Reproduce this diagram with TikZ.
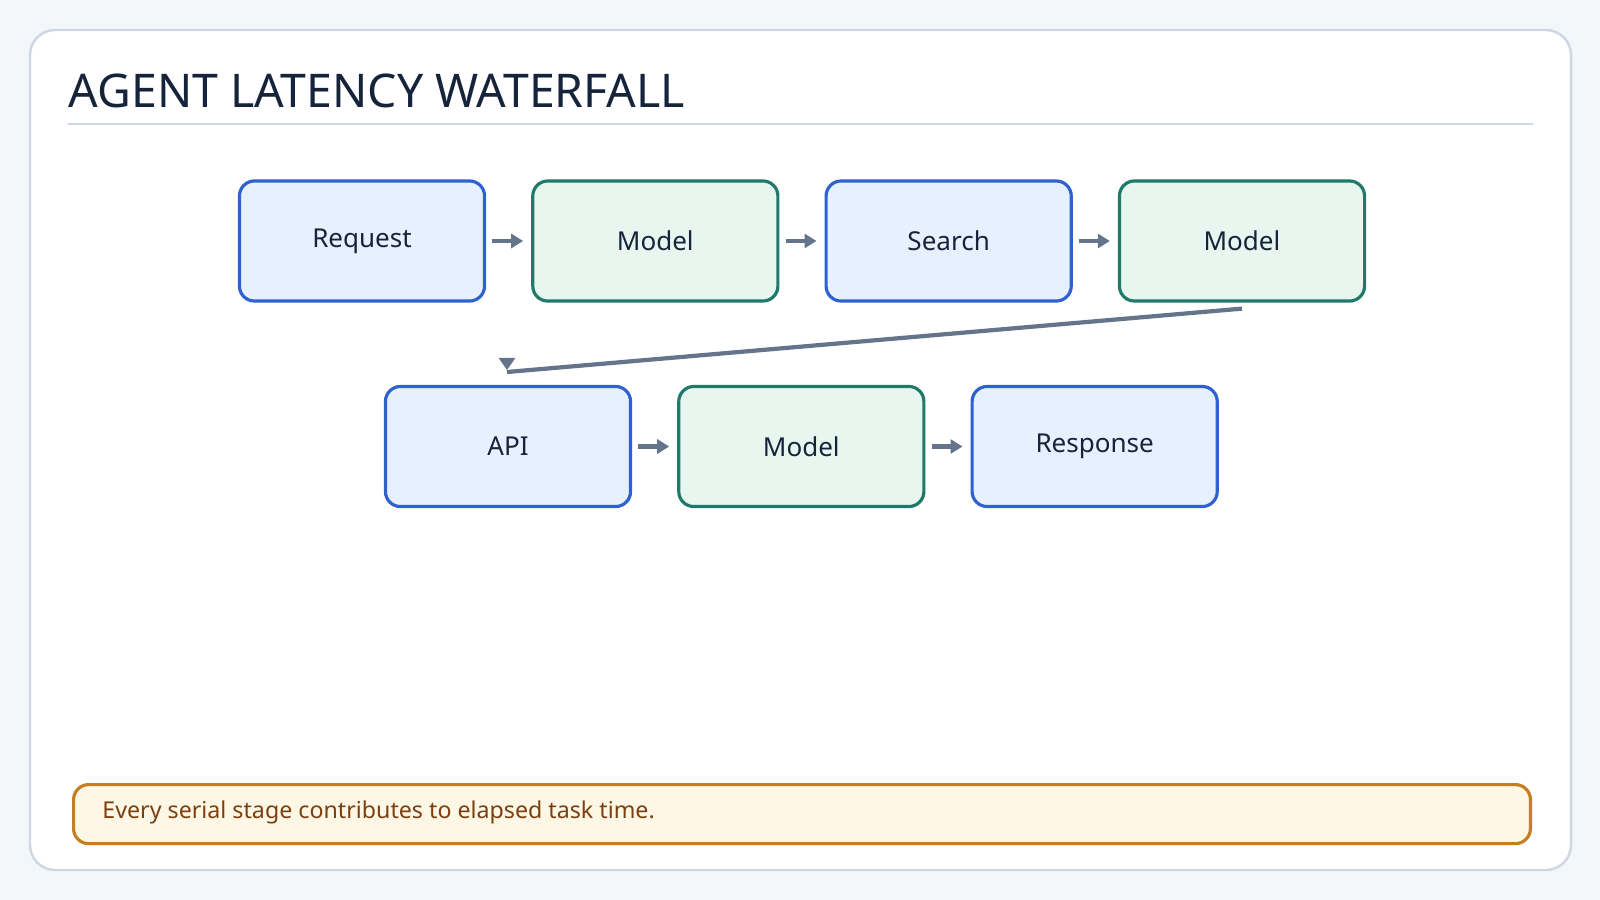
\documentclass[tikz,border=0pt]{standalone}
\usepackage{fontspec}
\setmainfont{Noto Sans}
\usetikzlibrary{positioning,arrows.meta}
\definecolor{bgc}{HTML}{F3F7FA}
\definecolor{framec}{HTML}{CFD8E2}
\definecolor{titlec}{HTML}{15233B}
\definecolor{bluec}{HTML}{2F62D0}
\definecolor{bluef}{HTML}{E7F0FE}
\definecolor{greenc}{HTML}{1F7A6A}
\definecolor{greenf}{HTML}{E7F7F0}
\definecolor{arrc}{HTML}{64748B}
\definecolor{notec}{HTML}{C47F22}
\definecolor{notef}{HTML}{FEF7E6}
\definecolor{notet}{HTML}{7C3F0E}
\tikzset{
  stage/.style={draw,line width=0.9pt,rounded corners=0.15cm,minimum width=2.45cm,minimum height=1.2cm,font=\bfseries\fontsize{7.4}{9}\selectfont,text=titlec},
  bstage/.style={stage,draw=bluec,fill=bluef},
  gstage/.style={stage,draw=greenc,fill=greenf},
  flow/.style={arrc,line width=1.2pt,-{Triangle[length=0.12cm,width=0.14cm]}}
}
\begin{document}
\begin{tikzpicture}[x=0.01cm,y=-0.01cm]
\useasboundingbox[fill=bgc](0,0) rectangle (1600,900);
%frame
\draw[framec,fill=white,line width=0.7pt,rounded corners=0.25cm](30,30) rectangle (1571,870);
\node[anchor=base west,text=titlec,font=\bfseries\fontsize{13.2}{15}\selectfont,inner sep=0](title) at (68,107){AGENT LATENCY WATERFALL};
\draw[framec,line width=0.6pt](68,124)--(1533,124);
%row 1
\node[bstage](req) at (362,241){Request};
\node[gstage,right=0.45cm of req](m1){Model};
\node[bstage,right=0.45cm of m1](search){Search};
\node[gstage,right=0.45cm of search](m2){Model};
%row 2
\node[bstage](api) at (508,446.5){API};
\node[gstage,right=0.45cm of api](m3){Model};
\node[bstage,right=0.45cm of m3](resp){Response};
%arrows
\foreach \a/\b in {req/m1,m1/search,search/m2,api/m3,m3/resp}
  \draw[flow]([xshift=0.06cm]\a.east)--([xshift=-0.08cm]\b.east-|\b.west);
\coordinate(bend) at (507,372);
\coordinate(tipTop) at (507,358);
\coordinate(tipEnd) at (507,370);
\draw[arrc,line width=1.2pt]([yshift=-0.06cm]m2.south)--(bend);
\draw[arrc,line width=1pt,-{Triangle[length=0.12cm,width=0.16cm]}](tipTop)--(tipEnd);
%note
\node[draw=notec,fill=notef,line width=0.9pt,rounded corners=0.15cm,minimum width=14.56cm,minimum height=0.59cm,anchor=north west](note) at (72,783){};
\node[anchor=west,text=notet,font=\bfseries\fontsize{6.6}{8}\selectfont](notetext) at (90,812){Every serial stage contributes to elapsed task time.};
\end{tikzpicture}
\end{document}
